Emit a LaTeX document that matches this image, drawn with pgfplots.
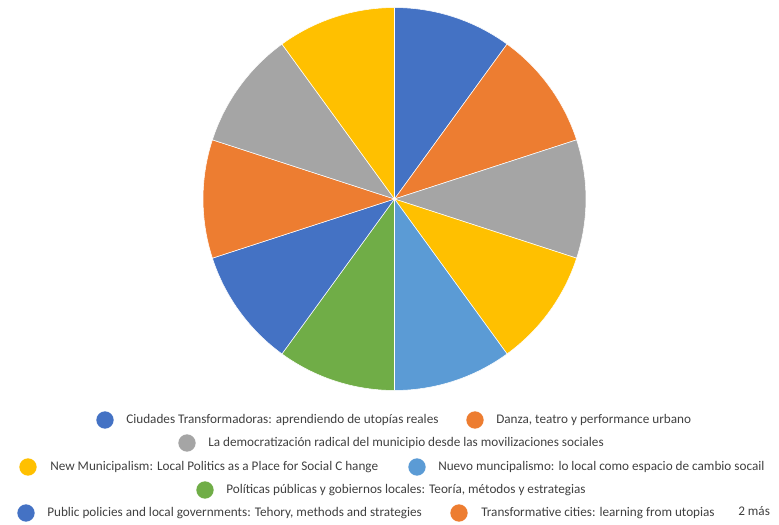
\documentclass[border=0pt]{standalone}
\usepackage{pgfplots}
\pgfplotsset{compat=1.18}
\usepackage{pgfplotstable}
\usepackage{fontspec}
\setmainfont{Carlito}

\definecolor{pblue}{HTML}{4472C4}
\definecolor{porange}{HTML}{ED7D31}
\definecolor{pgray}{HTML}{A5A5A5}
\definecolor{pyellow}{HTML}{FFC000}
\definecolor{plblue}{HTML}{5B9BD5}
\definecolor{pgreen}{HTML}{70AD47}
\definecolor{txt}{HTML}{404040}

% one row per book, clockwise from the top
\pgfplotstableread{
value color
1 pblue
1 porange
1 pgray
1 pyellow
1 plblue
1 pgreen
1 pblue
1 porange
1 pgray
1 pyellow
}\piedata

\begin{document}
\begin{tikzpicture}[font=\fontsize{9.9}{11}\selectfont, text=txt]
\begin{axis}[
    hide axis,
    x=0.75pt, y=0.75pt,
    xmin=0, xmax=779, ymin=0, ymax=525,
    y dir=reverse,
    clip=false,
]
    \pgfplotstablegetrowsof{\piedata}
    \pgfmathtruncatemacro\lastrow{\pgfplotsretval-1}
    \def\total{0}
    \pgfplotsforeachungrouped \i in {0,...,\lastrow}{%
        \pgfplotstablegetelem{\i}{value}\of\piedata
        \pgfmathsetmacro\total{\total+\pgfplotsretval}%
    }
    \def\cum{0}
    \pgfplotsforeachungrouped \i in {0,...,\lastrow}{%
        \pgfplotstablegetelem{\i}{value}\of\piedata
        \let\v\pgfplotsretval
        \pgfplotstablegetelem{\i}{color}\of\piedata
        \let\c\pgfplotsretval
        \pgfmathsetmacro\a{90-360*\cum/\total}%
        \pgfmathsetmacro\b{90-360*(\cum+\v)/\total}%
        \pgfmathsetmacro\cum{\cum+\v}%
        \edef\tmp{\noexpand\filldraw[fill=\c, draw=white, line width=0.4pt]
            (axis cs:394.5,199) -- ++(\a:143.6pt)
            arc[start angle=\a, end angle=\b, radius=143.6pt] -- cycle;}%
        \tmp
    }

    % legend
    \fill[pblue]   (axis cs:105,420) circle[radius=6.5pt];
    \node[anchor=west, inner sep=0] at (axis cs:126,420) {Ciudades Transformadoras: aprendiendo de utopías reales};
    \fill[porange] (axis cs:475,420) circle[radius=6.5pt];
    \node[anchor=west, inner sep=0] at (axis cs:496,420) {Danza, teatro y performance urbano};

    \fill[pgray]   (axis cs:187,443) circle[radius=6.5pt];
    \node[anchor=west, inner sep=0] at (axis cs:208,443) {La democratización radical del municipio desde las movilizaciones sociales};

    \fill[pyellow] (axis cs:28,467) circle[radius=6.5pt];
    \node[anchor=west, inner sep=0] at (axis cs:50,467) {New Municipalism: Local Politics as a Place for Social C hange};
    \fill[plblue]  (axis cs:417,467) circle[radius=6.5pt];
    \node[anchor=west, inner sep=0] at (axis cs:438,467) {Nuevo muncipalismo: lo local como espacio de cambio socail};

    \fill[pgreen]  (axis cs:205,490) circle[radius=6.5pt];
    \node[anchor=west, inner sep=0] at (axis cs:226,490) {Políticas públicas y gobiernos locales: Teoría, métodos y estrategias};

    \fill[pblue]   (axis cs:26,513) circle[radius=6.5pt];
    \node[anchor=west, inner sep=0] at (axis cs:47,513) {Public policies and local governments: Tehory, methods and strategies};
    \fill[porange] (axis cs:459,513) circle[radius=6.5pt];
    \node[anchor=west, inner sep=0] at (axis cs:481,513) {Transformative cities: learning from utopias};
    \node[anchor=west, inner sep=0] at (axis cs:738,511) {2 más};
\end{axis}
\useasboundingbox (0,0) rectangle (584.25pt,393.75pt);
\end{tikzpicture}
\end{document}
